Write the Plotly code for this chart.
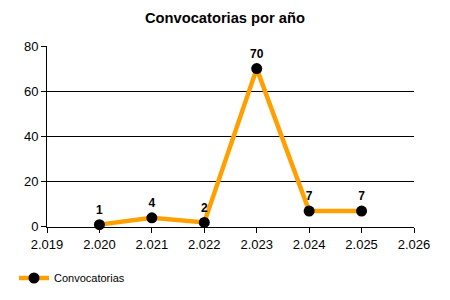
import plotly.graph_objects as go

years = [2020, 2021, 2022, 2023, 2024, 2025]
counts = [1, 4, 2, 70, 7, 7]
labels = [str(v) for v in counts]
series_name = "Convocatorias"
title = "Convocatorias por año"

font = "Liberation Sans, Arial, sans-serif"

fig = go.Figure()
fig.add_trace(go.Scatter(
    x=years, y=counts, name=series_name,
    mode="lines+markers+text",
    line=dict(color="#FFA000", width=4.5),
    marker=dict(color="black", size=11),
    text=labels, textposition="top center",
    textfont=dict(family=font, size=12, color="black", weight="bold"),
    cliponaxis=False,
))

fig.update_layout(
    width=450, height=300,
    margin=dict(l=47, r=36, t=46, b=71),
    paper_bgcolor="white", plot_bgcolor="white",
    separators=",.",
    title=dict(text=title, x=0.5, xref="container", y=1 - 18/300, yref="container",
               xanchor="center", yanchor="middle",
               font=dict(family=font, size=14.7, color="black", weight="bold")),
    font=dict(family=font, size=12, color="black"),
    showlegend=True,
    legend=dict(orientation="h", x=14/450, xref="container", y=1 - 278/300, yref="container",
                xanchor="left", yanchor="middle", itemwidth=30,
                font=dict(family=font, size=11, color="black")),
    xaxis=dict(range=[2019, 2026], dtick=1, tick0=2019, tickformat=",d",
               showgrid=False, showline=True, linecolor="black", linewidth=1,
               ticks="outside", ticklen=5, tickcolor="black", zeroline=False,
               tickfont=dict(size=13)),
    yaxis=dict(range=[0, 80], dtick=20, showgrid=True, gridcolor="black", gridwidth=1,
               showline=True, linecolor="black", linewidth=1,
               ticks="outside", ticklen=5, tickcolor="black", zeroline=False,
               tickfont=dict(size=13)),
)

fig.write_html("out.html")
